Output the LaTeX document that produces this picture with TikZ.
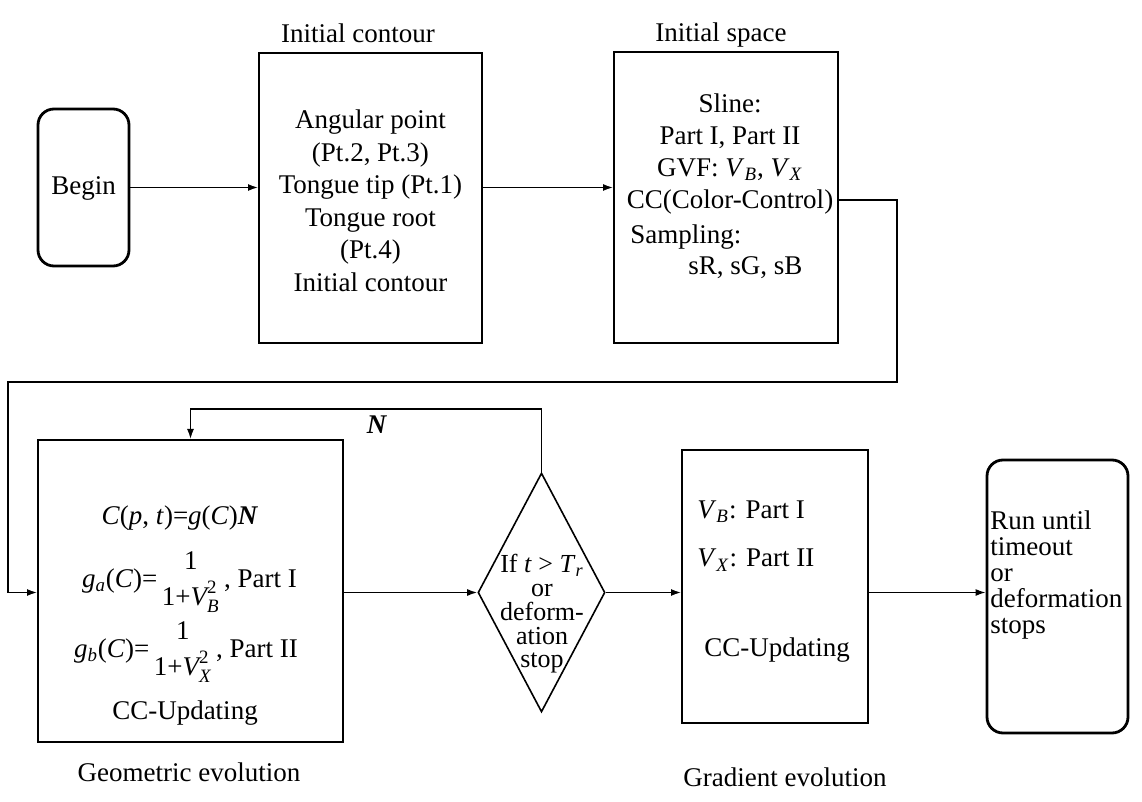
\documentclass[tikz,border=0pt]{standalone}
\usepackage{amsmath}
\usepackage{fontspec}
\setmainfont{Liberation Serif}
\usetikzlibrary{shapes.geometric,arrows.meta}
\begin{document}
\begin{tikzpicture}[x=0.5pt,y=-0.5pt,
  box/.style={draw,line width=1pt,inner sep=0pt},
  term/.style={draw,line width=1.4pt,rounded corners=8pt,inner sep=0pt},
  txt/.style={font=\fontsize{13.5}{16.25}\selectfont,inner sep=0pt,align=center},
  conn/.style={line width=0.7pt,-{Latex[length=5pt,width=3.5pt]}}]
\useasboundingbox (0,0) rectangle (1142,802);
% boxes
\node[term,minimum width=45.5pt,minimum height=78.5pt] (begin) at (83.5,187.5) {};
\node[txt] (begintxt) at (83.5,188) {Begin};
\node[box,minimum width=111.5pt,minimum height=145pt] (ic) at (370.5,198) {};
\node[txt] (ictxt) at (370.5,201) {Angular point\\(Pt.2, Pt.3)\\Tongue tip (Pt.1)\\Tongue root\\(Pt.4)\\Initial contour};
\node[txt] (iclab) at (358,33) {Initial contour};
\node[box,minimum width=112pt,minimum height=145.5pt] (is) at (726,197.5) {};
\node[txt,font=\fontsize{13.5}{16}\selectfont] (istxt) at (730,154) {Sline:\\Part I, Part II\\GVF: \textit{V}\textsubscript{\textit{B}}, \textit{V}\textsubscript{\textit{X}}\\CC(Color-Control)};
\node[txt,anchor=west] (samp) at (630,237) {Sampling:};
\node[txt,anchor=west] (srgb) at (688,268) {sR, sG, sB};
\node[txt] (islab) at (721,35) {Initial space};
% geometric evolution
\node[box,minimum width=152.5pt,minimum height=151pt] (geo) at (190.5,591) {};
\node[txt] (eq1) at (180,518) {\textit{C}(\textit{p}, \textit{t})=\textit{g}(\textit{C})\textbf{\textit{N}}};
\node[txt] (eq2) at (189.5,580) {\textit{g}\textsubscript{\textit{a}}(\textit{C})=\,\renewcommand\arraystretch{1.1}\begin{tabular}{@{}c@{}}1\\1+$\textit{V}^{\text{2}}_{\text{\itshape B}}$\end{tabular}\,, Part I};
\node[txt] (eq3) at (186,650) {\textit{g}\textsubscript{\textit{b}}(\textit{C})=\,\renewcommand\arraystretch{1.1}\begin{tabular}{@{}c@{}}1\\1+$\textit{V}^{\text{2}}_{\text{\itshape X}}$\end{tabular}\,, Part II};
\node[txt] (geocc) at (185,713) {CC-Updating};
\node[txt] (geolab) at (189,772) {Geometric evolution};
% decision
\node[draw,diamond,line width=0.8pt,minimum width=63.5pt,minimum height=119.5pt,inner sep=0pt] (dia) at (541.5,592.5) {};
\node[txt,font=\fontsize{13}{11.9}\selectfont] (diatxt) at (542,614) {If \textit{t} > \textit{T}\textsubscript{\textit{r}}\\or\\deform-\\ation\\stop};
\node[txt] (nlab) at (377,425) {\textbf{\textit{N}}};
% gradient evolution
\node[box,minimum width=93pt,minimum height=136.5pt] (grad) at (775,586.5) {};
\node[txt,anchor=west] (vb) at (697,512) {\textit{V}\textsubscript{\textit{B}}: Part I};
\node[txt,anchor=west] (vx) at (697,560) {\textit{V}\textsubscript{\textit{X}}: Part II};
\node[txt] (gradcc) at (777,650) {CC-Updating};
\node[txt] (gradlab) at (785,777) {Gradient evolution};
% run
\node[term,minimum width=70.5pt,minimum height=136.5pt] (run) at (1057.5,596.5) {};
\node[txt,anchor=west,align=left,font=\fontsize{13.5}{13}\selectfont] (runtxt) at (990,575) {Run until\\timeout\\or\\deformation\\stops};
% connectors
\coordinate (c1) at (897,200);
\coordinate (c2) at (8,382);
\coordinate (fb) at (541.5,409);
\draw[conn] (begin.east) -- (begin.east -| ic.west);
\draw[conn] (begin.east -| ic.east) -- (begin.east -| is.west);
\draw[conn] (is.east |- c1) -- (c1) |- (c2) |- (geo.west |- dia.west);
\draw[conn] (geo.east |- dia.west) -- (dia.west);
\draw[conn] (dia.north) -- (fb) -| (geo.north);
\draw[conn] (dia.east) -- (dia.east -| grad.west);
\draw[conn] (grad.east |- dia.east) -- (run.west |- dia.east);
\end{tikzpicture}
\end{document}
